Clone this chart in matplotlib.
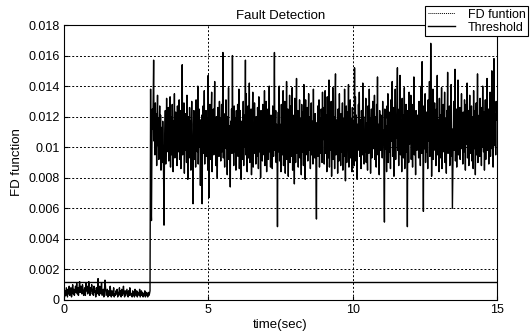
import numpy as np
import matplotlib
matplotlib.use("Agg")
import matplotlib.pyplot as plt
from matplotlib.lines import Line2D

plt.rcParams['font.family'] = ['Liberation Sans', 'DejaVu Sans']

# FD function values in units of 1e-4
fd_pre = [4,2,6,3,8,5,2,7,4,9,3,6,8,2,5,10,4,7,3,6,9,5,11,4,8,3,7,12,5,9,
          6,4,10,7,3,5,8,3,11,6,9,4,7,12,5,3,8,6,10,4,7,3,9,5,6,2,8,4,7,14,
          5,3,9,6,4,11,3,5,7,2,6,13,8,3,5,7,2,6,4,3,9,5,2,6,4,3,8,2,4,3,
          6,4,7,2,5,3,8,4,6,2,7,3,5,9,4,2,6,3,5,7,4,2,6,3,8,5,3,4,2,6,
          3,5,2,7,4,3,6,2,5,4,3,7,2,4,6,3,5,2,4,3,6,2,5,3,4,2,5,3,4,6]
fd_3_6 = [138,60,52,98,125,112,131,157,104,118,95,129,108,122,88,115,134,101,119,92,
          110,127,96,121,85,106,113,90,117,99,82,49,94,111,124,89,105,132,97,118,
          108,126,91,115,103,133,87,120,112,95,128,106,84,117,99,135,93,110,123,102,
          114,88,127,105,119,97,131,92,109,124,86,113,100,154,95,118,107,129,83,111,
          122,98,116,90,134,104,79,120,109,93,126,101,117,85,112,130,96,107,63,115,
          124,92,108,119,87,131,103,114,97,140,89,112,125,100,118,75,106,93,121,63,
          110,127,96,116,137,89,113,101,124,94,119,106,85,147,98,67,115,128,92,109,
          121,136,84,111,103,125,95,118,143,99,107,88,120,113,80,126,102,117,94,130,
          105,119,91,114,128,97,110,162,93,116,104,87,122,108,131,99,113,82,120,105,
          139,92,114,100,74,117,106,125,96,160,103,111,88,127,110,97,119,85,124,102]
fd_6_9 = [103,128,94,115,138,86,109,124,99,79,117,106,92,111,130,88,121,100,113,157,
          95,135,101,84,116,127,93,108,142,90,113,98,125,82,104,119,136,87,110,96,
          129,100,114,89,120,105,94,126,118,86,133,107,97,115,80,124,102,111,91,128,
          106,119,95,137,88,112,99,130,84,116,104,125,92,109,140,97,113,87,121,101,
          118,86,127,105,94,116,162,98,110,124,90,115,103,48,109,123,97,140,91,115,
          102,84,128,107,95,120,137,88,112,99,130,83,116,104,143,92,109,125,81,118,
          100,134,90,111,127,94,106,139,85,121,98,113,76,132,103,90,117,145,96,108,
          124,87,115,100,131,93,119,105,82,128,110,97,123,88,141,106,114,79,131,95,
          118,102,126,91,112,135,98,107,120,86,114,129,95,104,117,89,138,101,111,93,
          122,108,85,53,116,99,127,94,110,131,87,119,103,96,125,112,90,136,105,117]
fd_9_12 = [126,89,112,137,96,108,121,84,133,101,93,117,144,87,110,124,98,130,81,115,
           104,139,92,120,107,86,128,148,95,113,100,118,83,125,109,91,135,103,116,88,
           122,97,111,129,85,106,119,94,138,102,78,114,127,90,108,123,99,141,87,113,
           100,131,93,119,106,84,126,110,96,117,88,152,104,133,91,121,102,79,115,98,
           128,109,136,94,118,103,86,124,112,95,142,100,120,89,107,97,114,132,90,116,
           101,85,127,109,96,138,105,119,83,112,125,93,108,130,99,117,104,134,92,120,
           110,87,128,101,146,95,115,106,82,124,113,98,121,107,118,93,130,102,111,88,
           51,125,99,114,105,84,127,119,135,90,108,123,97,112,86,131,104,117,143,94,
           109,126,81,115,101,138,92,120,106,129,152,98,114,88,125,103,147,95,118,108,
           84,132,100,121,93,111,139,86,116,105,128,97,110,48,124,113,90,136,102,119]
fd_12_15 = [104,134,92,120,110,87,128,101,146,95,115,106,82,124,113,98,121,107,118,93,
            130,102,111,88,125,140,96,156,114,105,58,127,99,119,135,90,108,123,97,112,
            86,131,104,117,143,94,109,168,126,81,115,101,138,92,120,106,129,98,114,88,
            125,103,147,95,118,108,84,132,100,121,93,111,139,86,116,105,128,97,110,136,
            90,119,102,83,124,113,149,96,107,122,127,88,117,101,141,94,112,60,85,106,
            130,98,116,151,91,109,125,87,120,103,144,95,113,100,126,92,118,107,135,99,
            114,89,123,106,97,131,110,85,128,102,119,142,93,108,124,88,116,134,96,111,
            103,127,91,120,109,86,137,99,115,124,82,112,129,95,106,148,90,118,101,121,
            94,132,107,117,88,126,100,140,113,97,123,85,110,131,92,119,104,145,98,115,
            125,89,112,103,136,94,120,108,150,99,116,87,128,158,101,113,122,95,130,118]
threshold = 0.00115
segments = [(0, 3, fd_pre), (3, 6, fd_3_6), (6, 9, fd_6_9), (9, 12, fd_9_12), (12, 15, fd_12_15)]

t_all, v_all = [], []
for a, b, seg in segments:
    t_all.append(np.linspace(a, b, len(seg), endpoint=False))
    v_all.append(np.array(seg) * 1e-4)
t_all = np.concatenate(t_all)
v_all = np.concatenate(v_all)

fig = plt.figure(figsize=(5.3, 3.34), dpi=100)
ax = fig.add_axes([64/530, 1-300/334, (497-64)/530, (300-25)/334])

ax.plot(t_all, v_all, color='black', lw=1.0)
ax.plot([0, 15], [threshold, threshold], color='black', lw=1.0)

ax.set_xlim(0, 15)
ax.set_ylim(0, 0.018)
ax.set_xticks([0, 5, 10, 15])
ax.set_xticklabels(['0', '5', '10', '15'])
yt = np.arange(0, 0.0181, 0.002)
ax.set_yticks(yt)
ax.set_yticklabels(['0', '0.002', '0.004', '0.006', '0.008', '0.01', '0.012', '0.014', '0.016', '0.018'])
ax.tick_params(direction='in', length=3, labelsize=9, width=0.8, pad=3)
ax.grid(True, color='black', linestyle=(0, (2, 2)), lw=0.7)
for s in ax.spines.values():
    s.set_color('black')
    s.set_linewidth(0.8)

ax.set_title('Fault Detection', fontsize=9.5, pad=4)
ax.set_xlabel('time(sec)', fontsize=9.5, labelpad=2)
ax.set_ylabel('FD function', fontsize=9.5, labelpad=4)

handles = [Line2D([], [], color='black', lw=0.7, linestyle=(0, (1, 1))),
           Line2D([], [], color='black', lw=1.0)]
leg = fig.legend(handles, ['FD funtion', 'Threshold'], loc='upper left',
                 bbox_to_anchor=(425/530, 1-6/334), fontsize=9, frameon=True,
                 fancybox=False, edgecolor='black', framealpha=1,
                 handlelength=2.2, borderpad=0.2, labelspacing=0.1, handletextpad=1.0,
                 borderaxespad=0)
leg.get_frame().set_linewidth(0.8)

fig.savefig('out.png', dpi=100)
